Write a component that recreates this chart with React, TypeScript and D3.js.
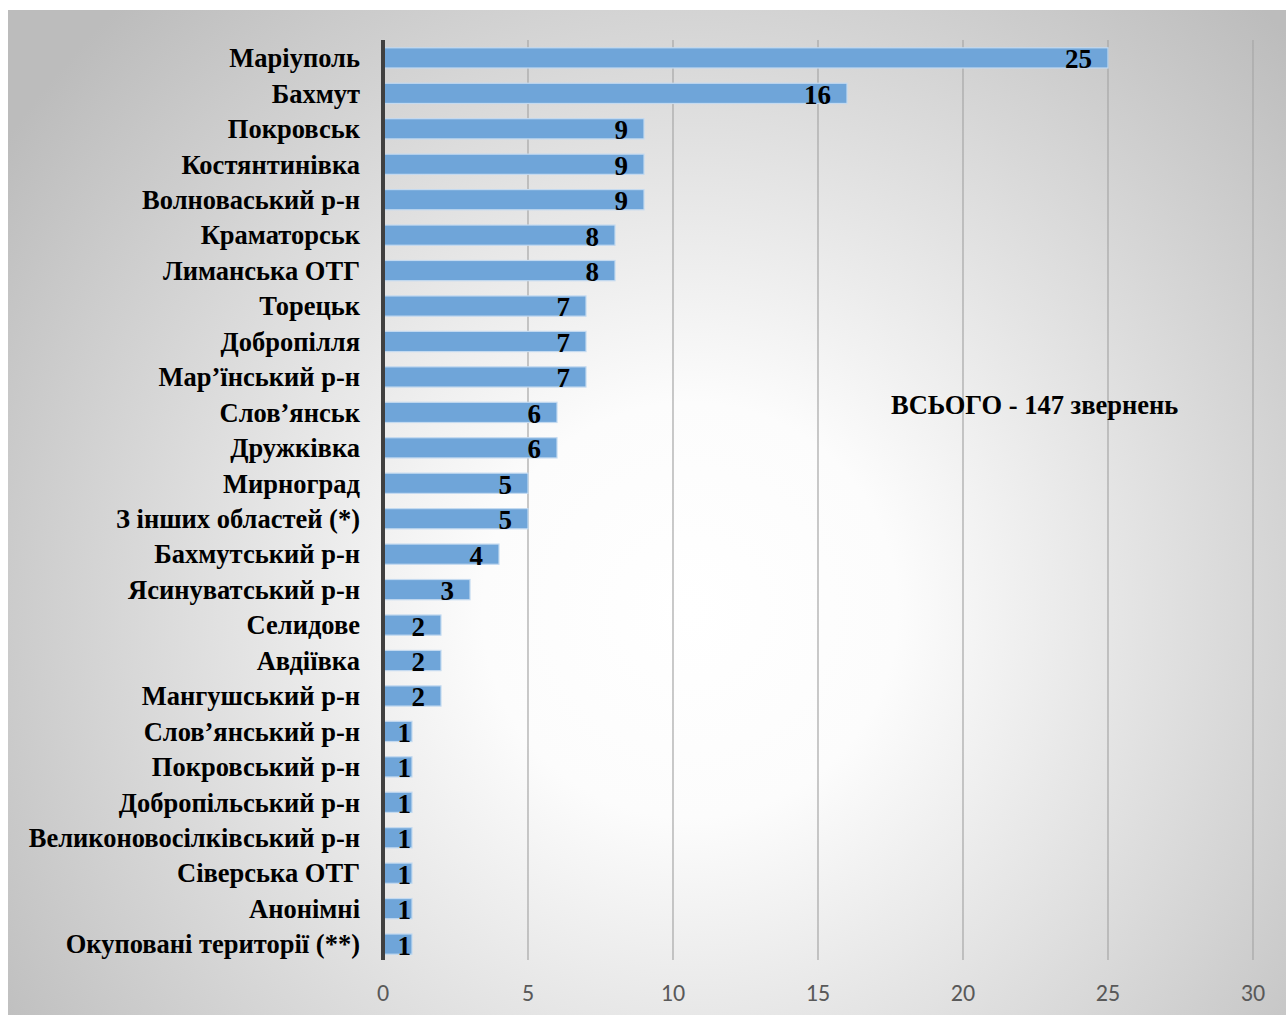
import * as d3 from 'd3'
import { useEffect, useRef } from 'react'

const categories = [
  'Маріуполь', 'Бахмут', 'Покровськ', 'Костянтинівка', 'Волноваський р-н',
  'Краматорськ', 'Лиманська ОТГ', 'Торецьк', 'Добропілля', 'Мар’їнський р-н',
  'Слов’янськ', 'Дружківка', 'Мирноград', 'З інших областей (*)', 'Бахмутський р-н',
  'Ясинуватський р-н', 'Селидове', 'Авдіївка', 'Мангушський р-н', 'Слов’янський р-н',
  'Покровський р-н', 'Добропільський р-н', 'Великоновосілківський р-н', 'Сіверська ОТГ',
  'Анонімні', 'Окуповані території (**)',
]
const values = [25, 16, 9, 9, 9, 8, 8, 7, 7, 7, 6, 6, 5, 5, 4, 3, 2, 2, 2, 1, 1, 1, 1, 1, 1, 1]
const ticks = [0, 5, 10, 15, 20, 25, 30]
const totalLabel = 'ВСЬОГО - 147 звернень'

export default function App() {
  const svgRef = useRef<SVGSVGElement>(null)

  useEffect(() => {
    const width = 1286
    const height = 1015
    const serif = '"Liberation Serif", "Times New Roman", serif'
    const svg = d3.select(svgRef.current).attr('width', width).attr('height', height)
    svg.selectAll('*').remove()

    const defs = svg.append('defs')
    const grad = defs.append('radialGradient')
      .attr('id', 'bg').attr('gradientUnits', 'userSpaceOnUse')
      .attr('cx', 690).attr('cy', 610).attr('r', 830)
    grad.append('stop').attr('offset', 0).attr('stop-color', '#ffffff')
    grad.append('stop').attr('offset', 0.25).attr('stop-color', '#fcfcfc')
    grad.append('stop').attr('offset', 1).attr('stop-color', '#bcbcbc')

    svg.append('rect').attr('x', 8).attr('y', 10).attr('width', width - 8).attr('height', height - 10)
      .attr('fill', 'url(#bg)')

    const x = d3.scaleLinear().domain([0, 30]).range([383, 1253])
    const y = d3.scaleBand().domain(categories).range([40, 962]).paddingInner(0.43).paddingOuter(0.22)

    // gridlines
    svg.append('g').selectAll('line').data(ticks.slice(1)).enter().append('line')
      .attr('x1', d => x(d)).attr('x2', d => x(d)).attr('y1', 40).attr('y2', 960)
      .attr('stroke', '#a6a6a6').attr('stroke-width', 1.2)

    // tick labels
    svg.append('g').selectAll('text').data(ticks).enter().append('text')
      .attr('x', d => x(d)).attr('y', 1001).attr('text-anchor', 'middle')
      .attr('font-family', 'Carlito, Lato, sans-serif').attr('font-size', 24).attr('fill', '#595959')
      .text(d => d)

    // bars
    svg.append('g').selectAll('rect').data(values).enter().append('rect')
      .attr('x', x(0)).attr('y', (_, i) => y(categories[i])!)
      .attr('width', d => x(d) - x(0)).attr('height', y.bandwidth())
      .attr('fill', '#6fa5d9').attr('stroke', '#c4daf0').attr('stroke-width', 1.2)

    // axis line
    svg.append('line').attr('x1', x(0)).attr('x2', x(0)).attr('y1', 40).attr('y2', 960)
      .attr('stroke', '#404040').attr('stroke-width', 4)

    // category labels
    svg.append('g').selectAll('text').data(categories).enter().append('text')
      .attr('x', 360).attr('y', d => y(d)! + y.bandwidth() / 2)
      .attr('dy', '0.35em').attr('text-anchor', 'end')
      .attr('font-family', serif).attr('font-weight', 'bold')
      .attr('font-size', 26.5).attr('fill', '#000')
      .text(d => d)

    // value labels
    svg.append('g').selectAll('text').data(values).enter().append('text')
      .attr('x', d => Math.max(x(d) - 16, x(0) + 28))
      .attr('y', (_, i) => y(categories[i])! + y.bandwidth() / 2 + 1)
      .attr('dy', '0.35em').attr('text-anchor', 'end')
      .attr('font-family', serif).attr('font-weight', 'bold')
      .attr('font-size', 27).attr('fill', '#000')
      .text(d => d)

    svg.append('text').attr('x', 891).attr('y', 405).attr('dy', '0.35em')
      .attr('font-family', serif).attr('font-weight', 'bold')
      .attr('font-size', 26.5).attr('fill', '#000')
      .text(totalLabel)
  }, [])

  return <svg ref={svgRef} style={{ position: 'absolute', left: 0, top: 0 }}></svg>
}
